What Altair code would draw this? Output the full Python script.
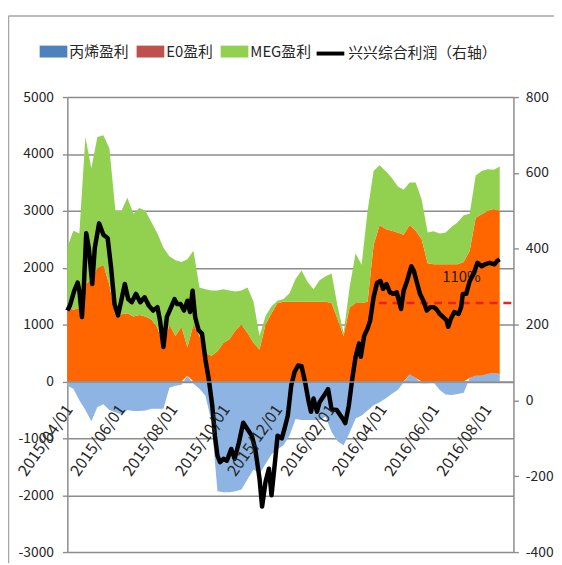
import altair as alt
import pandas as pd

FONT = "Noto Sans CJK SC"

series_names = ["丙烯盈利", "E0盈利", "MEG盈利"]
line_name = "兴兴综合利润（右轴）"

week_start = "2015-03-30"
propylene = [-75, -130, -330, -500, -700, -450, -400, -500, -540, -580,
             -500, -520, -520, -510, -480, -480, -480, -110, -75, -60,
             100, -40, -130, -250, -700, -1930, -1950, -1950, -1930, -1900,
             -1720, -1550, -1620, -1450, -1280, -1190, -1120, -950, -660, -680,
             -680, -680, -680, -620, -890, -1050, -1120, -900, -650, -600,
             -510, -420, -365, -300, -220, -150, -20, 120, 60, -30,
             -30, -20, -150, -230, -240, -220, -200, 60, 100, 100,
             130, 150, 130]
eo = [1320, 1260, 1290, 1700, 1800, 2000, 2050, 1700, 1150, 1180,
      1200, 1140, 1170, 1140, 1090, 950, 620, 1000, 800, 960,
      500, 1000, 800, 500, 450, 530, 680, 740, 900, 1000,
      850, 680, 560, 1000, 1200, 1380, 1400, 1400, 1400, 1400,
      1400, 1400, 1400, 1400, 1380, 1100, 800, 1300, 1380, 1380,
      1400, 2400, 2750, 2680, 2650, 2620, 2580, 2630, 2590, 2500,
      2080, 2060, 2060, 2060, 2060, 2060, 2100, 2240, 2780, 2840,
      2870, 2880, 2870]
meg = [1040, 1390, 1310, 2600, 1950, 2300, 2280, 2400, 1850, 1820,
       2030, 1810, 1880, 1860, 1710, 1650, 1730, 1200, 1330, 1140,
       1550, 1300, 850, 1120, 1150, 1070, 940, 860, 680, 600,
       800, 720, 240, 150, 120, 40, 50, 150, 400, 550,
       350, 220, 380, 450, 520, 220, 50, 350, 870, 670,
       1600, 1300, 1050, 1020, 930, 810, 790, 750, 850, 700,
       540, 580, 540, 560, 660, 740, 820, 650, 740, 760,
       730, 690, 780]

line_dates = [
    "2015-03-30", "2015-04-02", "2015-04-07", "2015-04-11", "2015-04-13", "2015-04-16",
    "2015-04-18", "2015-04-21", "2015-04-24", "2015-04-28", "2015-05-01", "2015-05-06",
    "2015-05-11", "2015-05-16", "2015-05-20", "2015-05-24", "2015-05-28", "2015-05-31",
    "2015-06-05", "2015-06-09", "2015-06-13", "2015-06-18", "2015-06-23", "2015-06-28",
    "2015-07-03", "2015-07-08", "2015-07-13", "2015-07-16", "2015-07-20", "2015-07-24",
    "2015-07-29", "2015-08-02", "2015-08-05", "2015-08-09", "2015-08-13", "2015-08-17",
    "2015-08-20", "2015-08-23", "2015-08-26", "2015-08-30", "2015-09-03", "2015-09-07",
    "2015-09-11", "2015-09-15", "2015-09-18", "2015-09-21", "2015-09-24", "2015-09-28",
    "2015-10-02", "2015-10-07", "2015-10-11", "2015-10-16", "2015-10-21", "2015-10-26",
    "2015-10-31", "2015-11-04", "2015-11-09", "2015-11-12", "2015-11-16", "2015-11-20",
    "2015-11-23", "2015-11-27", "2015-11-30", "2015-12-05", "2015-12-08", "2015-12-12",
    "2015-12-16", "2015-12-20", "2015-12-24", "2015-12-28", "2016-01-01", "2016-01-05",
    "2016-01-08", "2016-01-11", "2016-01-15", "2016-01-18", "2016-01-23", "2016-01-28",
    "2016-02-01", "2016-02-07", "2016-02-13", "2016-02-17", "2016-02-21", "2016-02-25",
    "2016-02-29", "2016-03-04", "2016-03-06", "2016-03-10", "2016-03-14", "2016-03-17",
    "2016-03-21", "2016-03-25", "2016-03-29", "2016-04-01", "2016-04-05", "2016-04-09",
    "2016-04-13", "2016-04-17", "2016-04-19", "2016-04-22", "2016-04-25", "2016-04-29",
    "2016-05-04", "2016-05-07", "2016-05-10", "2016-05-14", "2016-05-18", "2016-05-22",
    "2016-05-26", "2016-05-30", "2016-06-02", "2016-06-06", "2016-06-10", "2016-06-14",
    "2016-06-16", "2016-06-19", "2016-06-23", "2016-06-28", "2016-07-01", "2016-07-03",
    "2016-07-07", "2016-07-11", "2016-07-16", "2016-07-20", "2016-07-25", "2016-07-29",
    "2016-08-03", "2016-08-09", "2016-08-12", "2016-08-15",
]
line_values = [
    237, 250, 289, 311, 289, 220,
    289, 441, 402, 307, 402, 467,
    437, 428, 350, 254, 224, 254,
    307, 267, 259, 281, 259, 272,
    250, 237, 246, 211, 141, 220,
    246, 267, 254, 254, 237, 263,
    233, 289, 220, 185, 176, 107,
    54, -15, -93, -146, -163, -154,
    -159, -128, -154, -111, -59, -76,
    -93, -128, -206, -280, -215, -180,
    -250, -163, -93, -100, -76, -40,
    40, 76, 92, 90, 50, 0,
    -30, 5, -30, -5, 12, 30,
    -24, -25, -45, -60, -15, 55,
    115, 150, 115, 170, 190, 211,
    272, 310, 315, 294, 307, 285,
    281, 285, 267, 241, 289, 315,
    354, 341, 315, 281, 263, 237,
    246, 246, 241, 228, 220, 211,
    194, 215, 233, 228, 246, 281,
    281, 315, 337, 363, 354, 359,
    363, 359, 368, 372,
]

tick_dates = ["2015/04/01", "2015/06/01", "2015/08/01", "2015/10/01", "2015/12/01",
              "2016/02/01", "2016/04/01", "2016/06/01", "2016/08/01"]
x_domain = ["2015/03/30", "2016/08/31"]
left_ticks = [-3000, -2000, -1000, 0, 1000, 2000, 3000, 4000, 5000]
right_ticks = [-400, -200, 0, 200, 400, 600, 800]

target_value = 257
target_start = "2016-03-27"
target_end = "2016-08-31"
target_label = "110%"
target_label_date = "2016-06-09"
target_label_value = 324

area_colors = ["#8DB4E2", "#FF6600", "#92D050"]
legend_colors = ["#4F81BD", "#C0504D", "#92D050"]


def dt(s):
    y, m, d = (int(p) for p in s.split("/"))
    return alt.DateTime(year=y, month=m, date=d)


dates = pd.date_range(week_start, periods=len(propylene), freq="7D")
rows = []
for ord_i, (name, vals) in enumerate(zip(series_names, [propylene, eo, meg])):
    for d, v in zip(dates, vals):
        rows.append({"date": d, "val": v, "series": name, "ord": ord_i})
area_df = pd.DataFrame(rows)

line_df = pd.DataFrame({"date": pd.to_datetime(line_dates), "val": line_values,
                        "series": line_name})
rule_df = pd.DataFrame({"date": pd.to_datetime([target_start]),
                        "date2": pd.to_datetime([target_end]),
                        "val": [target_value]})
text_df = pd.DataFrame({"date": pd.to_datetime([target_label_date]),
                        "val": [target_label_value], "label": [target_label]})
legend_df = pd.DataFrame({"series": series_names})

GRAY = "#8C8C8C"

x_enc = alt.X(
    "date:T",
    title=None,
    scale=alt.Scale(domain=[dt(x_domain[0]), dt(x_domain[1])]),
    axis=alt.Axis(
        values=[dt(t) for t in tick_dates],
        format="%Y/%m/%d",
        labelAngle=-55,
        labelAlign="right",
        labelBaseline="middle",
        labelFontSize=16,
        labelColor="#262626",
        labelPadding=25,
        ticks=False,
        grid=False,
        domainColor=GRAY,
        domainWidth=1.5,
        offset=-172.5,
        zindex=1,
        labelOverlap=False,
        labelFlush=False,
    ),
)

areas = alt.Chart(area_df).mark_area(opacity=1).encode(
    x=x_enc,
    y=alt.Y("val:Q", stack="zero", title=None,
            scale=alt.Scale(domain=[left_ticks[0], left_ticks[-1]], nice=False),
            axis=alt.Axis(values=left_ticks, labelExpr="'' + datum.value",
                          grid=True, gridColor=GRAY, gridWidth=1.4,
                          domainColor=GRAY, domainWidth=1.5,
                          tickColor=GRAY, tickSize=5, tickWidth=1.4,
                          labelPadding=9, labelFontSize=14, labelColor="#262626",
                          zindex=0)),
    color=alt.Color("ord:N", scale=alt.Scale(domain=[0, 1, 2], range=area_colors),
                    legend=None),
    order=alt.Order("ord:Q", sort="ascending"),
)

# empty layer that only carries the legend of the three profit series
legend_layer = alt.Chart(legend_df).mark_square(opacity=1).encode(
    fill=alt.Fill("series:N", scale=alt.Scale(domain=series_names, range=legend_colors),
                  legend=alt.Legend(
                      title=None, orient="none", direction="horizontal",
                      legendX=-28, legendY=-60,
                      symbolType="M-1,-0.43H1V0.43H-1Z", symbolSize=784,
                      symbolOpacity=1, symbolStrokeWidth=0,
                      labelOffset=2, columnPadding=7, padding=0)),
).transform_filter("datum.series == 'none'")

y_right = alt.Y("val:Q", title=None,
                scale=alt.Scale(domain=[right_ticks[0], right_ticks[-1]], nice=False, zero=False),
                axis=alt.Axis(orient="right", values=right_ticks, labelExpr="'' + datum.value",
                              grid=False, domainColor=GRAY, domainWidth=1.5,
                              tickColor=GRAY, tickSize=5, tickWidth=1.4,
                              labelPadding=7, labelFontSize=14, labelColor="#262626"))

rule = alt.Chart(rule_df).mark_rule(color="#E8202A", strokeWidth=2.5, strokeDash=[8, 6]).encode(
    x=x_enc, x2="date2:T", y=y_right)

label = alt.Chart(text_df).mark_text(align="left", baseline="middle", fontSize=15,
                                     font=FONT, color="#1A1A1A").encode(
    x=x_enc, y=y_right, text="label:N")

line = alt.Chart(line_df).mark_line(strokeWidth=4.5, strokeJoin="round").encode(
    x=x_enc, y=y_right,
    stroke=alt.Stroke("series:N", scale=alt.Scale(domain=[line_name], range=["#000000"]),
                      legend=alt.Legend(
                          title=None, orient="none", direction="horizontal",
                          legendX=250, legendY=-60,
                          symbolType="stroke", symbolSize=784, symbolStrokeWidth=4,
                          labelOffset=2, padding=0)))

right = alt.layer(rule, label, line)

frame_df = pd.DataFrame({"k": [0]})
frame_top = alt.Chart(frame_df).mark_rule(color="#A6A6A6", strokeWidth=1.5).encode(
    x=alt.value(-59.5), x2=alt.value(500), y=alt.value(-82))
frame_left = alt.Chart(frame_df).mark_rule(color="#A6A6A6", strokeWidth=1.5).encode(
    x=alt.value(-59.5), y=alt.value(-82), y2=alt.value(480))

chart = alt.layer(areas, right, legend_layer, frame_top, frame_left).resolve_scale(
    y="independent"
).properties(
    width=451, height=460,
    autosize=alt.AutoSizeParams(type="none"),
    padding={"left": 60, "top": 87, "right": 41, "bottom": 8},
    background="white",
).configure(font=FONT).configure_view(fill="#FBF1DF", stroke=None).configure_legend(
    labelFont=FONT, labelFontSize=15, labelColor="#262626", labelLimit=400)

chart.save("out.html", embed_options={"renderer": "svg", "actions": False})
